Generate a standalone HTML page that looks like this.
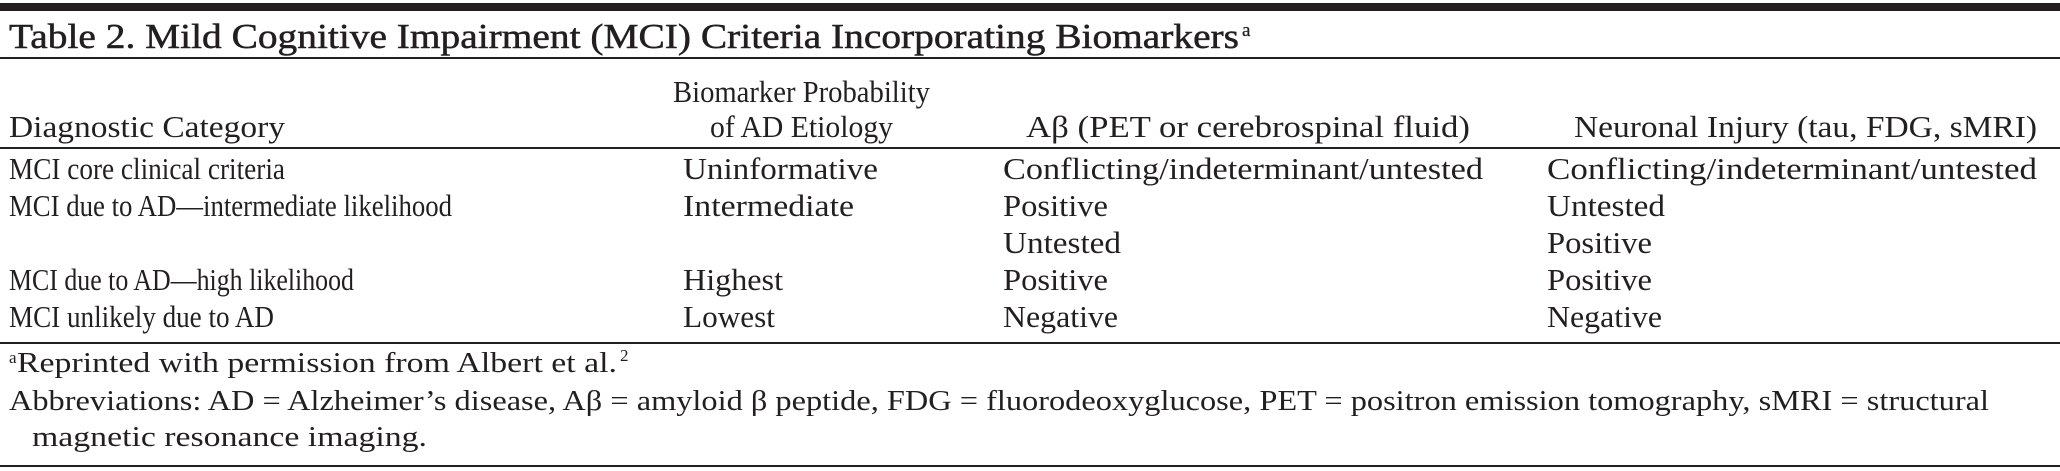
<!DOCTYPE html>
<html><head><meta charset="utf-8"><style>
html,body{margin:0;padding:0;background:#fff;}
svg{display:block}
text{font-family:"Liberation Serif",serif;fill:#231f20;}
</style></head><body>
<svg width="2060" height="471" viewBox="0 0 2060 471" xmlns="http://www.w3.org/2000/svg">
<rect x="0" y="3" width="2060" height="8" fill="#231f20"/>
<text x="9" y="48" font-size="35" textLength="1230" lengthAdjust="spacingAndGlyphs" stroke="#231f20" stroke-width="0.5">Table 2. Mild Cognitive Impairment (MCI) Criteria Incorporating Biomarkers</text>
<text x="1242" y="36" font-size="19" stroke="#231f20" stroke-width="0.3">a</text>
<rect x="0" y="57" width="2060" height="2" fill="#231f20"/>

<g font-size="31">
<text x="673" y="102" textLength="257" lengthAdjust="spacingAndGlyphs">Biomarker Probability</text>
<text x="9" y="137" textLength="276" lengthAdjust="spacingAndGlyphs">Diagnostic Category</text>
<text x="710" y="137" textLength="183" lengthAdjust="spacingAndGlyphs">of AD Etiology</text>
<text x="1026" y="137" textLength="444" lengthAdjust="spacingAndGlyphs">Aβ (PET or cerebrospinal fluid)</text>
<text x="1574" y="137" textLength="463" lengthAdjust="spacingAndGlyphs">Neuronal Injury (tau, FDG, sMRI)</text>
</g>
<rect x="0" y="147" width="2060" height="2" fill="#231f20"/>

<g font-size="31">
<text x="9" y="179" textLength="276" lengthAdjust="spacingAndGlyphs">MCI core clinical criteria</text>
<text x="683" y="179" textLength="195" lengthAdjust="spacingAndGlyphs">Uninformative</text>
<text x="1003" y="179" textLength="480" lengthAdjust="spacingAndGlyphs">Conflicting/indeterminant/untested</text>
<text x="1547" y="179" textLength="490" lengthAdjust="spacingAndGlyphs">Conflicting/indeterminant/untested</text>

<text x="9" y="216" textLength="443" lengthAdjust="spacingAndGlyphs">MCI due to AD—intermediate likelihood</text>
<text x="683" y="216" textLength="171" lengthAdjust="spacingAndGlyphs">Intermediate</text>
<text x="1003" y="216" textLength="105" lengthAdjust="spacingAndGlyphs">Positive</text>
<text x="1547" y="216" textLength="118" lengthAdjust="spacingAndGlyphs">Untested</text>

<text x="1003" y="253" textLength="118" lengthAdjust="spacingAndGlyphs">Untested</text>
<text x="1547" y="253" textLength="105" lengthAdjust="spacingAndGlyphs">Positive</text>

<text x="9" y="290" textLength="345" lengthAdjust="spacingAndGlyphs">MCI due to AD—high likelihood</text>
<text x="683" y="290" textLength="100" lengthAdjust="spacingAndGlyphs">Highest</text>
<text x="1003" y="290" textLength="105" lengthAdjust="spacingAndGlyphs">Positive</text>
<text x="1547" y="290" textLength="105" lengthAdjust="spacingAndGlyphs">Positive</text>

<text x="9" y="327" textLength="265" lengthAdjust="spacingAndGlyphs">MCI unlikely due to AD</text>
<text x="683" y="327" textLength="92" lengthAdjust="spacingAndGlyphs">Lowest</text>
<text x="1003" y="327" textLength="115" lengthAdjust="spacingAndGlyphs">Negative</text>
<text x="1547" y="327" textLength="115" lengthAdjust="spacingAndGlyphs">Negative</text>
</g>
<rect x="0" y="342" width="2060" height="2" fill="#231f20"/>

<g font-size="29">
<text x="9" y="363" font-size="17">a</text>
<text x="17" y="372" textLength="600" lengthAdjust="spacingAndGlyphs">Reprinted with permission from Albert et al.</text>
<text x="620" y="361" font-size="17">2</text>
<text x="9" y="410" textLength="1980" lengthAdjust="spacingAndGlyphs">Abbreviations: AD = Alzheimer’s disease, Aβ = amyloid β peptide, FDG = fluorodeoxyglucose, PET = positron emission tomography, sMRI = structural</text>
<text x="32" y="446" textLength="395" lengthAdjust="spacingAndGlyphs">magnetic resonance imaging.</text>
</g>
<rect x="0" y="465" width="2060" height="2" fill="#231f20"/>
</svg>
</body></html>
